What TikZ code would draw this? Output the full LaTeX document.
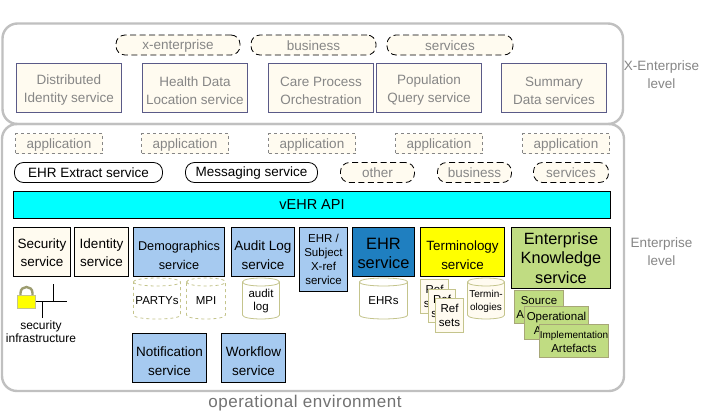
\documentclass[tikz,border=0pt]{standalone}
\usepackage{fontspec}
\setmainfont{Liberation Sans}
\definecolor{cream}{HTML}{FFFBF0}
\definecolor{panelgray}{HTML}{C0C0C0}
\definecolor{softtext}{HTML}{868686}
\definecolor{edgeblue}{HTML}{5A5A88}
\definecolor{skyblue}{HTML}{A6CAF0}
\definecolor{ehrblue}{HTML}{1F7FC0}
\definecolor{leaf}{HTML}{C0DC82}
\definecolor{olive}{HTML}{C4C48C}
\definecolor{purecyan}{HTML}{00FFFF}
\definecolor{pureyellow}{HTML}{FFFF00}
\newcommand{\fs}[2]{\fontsize{#1}{#2}\selectfont}
% [text drop], name, x1, y1, x2, y2, style, text
\newcommand{\bx}[8][0]{%
  \node[#7, minimum width={(#5-#3)*1pt}, minimum height={(#6-#4)*1pt}] (#2) at ({(#3+#5)/2},{(#4+#6)/2}) {};
  \node[#7, draw=none, fill=none] (#2-text) at ([yshift=-#1pt]#2.center) {#8};}
% name, x1, y1, x2, y2, shape style, text style, text
\newcommand{\cyl}[8]{%
  \path[store,#6] (#2,{#3+4}) .. controls (#2,{#3-1.3}) and (#4,{#3-1.3}) .. (#4,{#3+4})
    -- (#4,{#5-4}) .. controls (#4,{#5+1.3}) and (#2,{#5+1.3}) .. (#2,{#5-4}) -- cycle;
  \draw[store,#6,fill=none] (#2,{#3+4}) .. controls (#2,{#3+9.3}) and (#4,{#3+9.3}) .. (#4,{#3+4});
  \node[storetext,#7] (#1) at ({(#2+#4)/2},{(#3+#5)/2+2.5}) {#8};}
\tikzset{
  base/.style={inner sep=0pt, outer sep=0pt, align=center, font=\fs{13.5}{18}},
  panel/.style={base, draw=panelgray, line width=2.4pt, rounded corners=15pt},
  xbox/.style={base, draw=edgeblue, line width=0.9pt, fill=cream, text=softtext},
  appbox/.style={base, draw=softtext, dashed, line width=0.8pt, fill=cream, text=softtext},
  softpill/.style={base, draw=black, dash pattern=on 6pt off 3.5pt, line width=0.8pt, fill=cream, text=softtext, rounded corners=9pt},
  pillsvc/.style={base, draw=black, line width=0.8pt, rounded corners=9pt},
  svc/.style={base, draw=black, line width=0.9pt},
  cream svc/.style={svc, fill=cream},
  blue svc/.style={svc, fill=skyblue},
  store/.style={draw=olive, line width=0.8pt},
  storetext/.style={base, font=\fs{11.5}{13}},
  refsheet/.style={base, draw=olive, line width=0.8pt, fill=cream, font=\fs{11.5}{14}},
  artefact/.style={base, draw=olive!85!black, line width=0.8pt, fill=leaf, font=\fs{11.5}{14}},
  lvl/.style={inner sep=0pt, align=center, text=softtext, font=\fs{13.5}{18.5}},
  wire/.style={draw=black, line width=0.8pt}
}
\begin{document}
\begin{tikzpicture}[x=1pt,y=-1pt]
\useasboundingbox (0,0) rectangle (702,418);
\fill[white] (0,0) rectangle (702,418);
% panels
\bx{lowerpanel}{2}{124}{624}{391}{panel}{}
\bx{upperpanel}{2.5}{23.5}{623}{124}{panel}{}
% x-enterprise row
\bx[1]{pxe}{116}{35}{240}{55}{softpill}{x-enterprise}
\bx[1]{pxb}{251}{35}{376}{55}{softpill}{business}
\bx[1]{pxs}{387}{35}{513}{55}{softpill}{services}
\bx[2.5]{xa}{16.5}{63.5}{121.5}{112.5}{xbox}{Distributed\\Identity service}
\bx[2.5]{xb}{142.5}{63.5}{247.5}{112.5}{xbox}{Health Data\\Location service}
\bx[2.5]{xc}{268.5}{63.5}{373.5}{112.5}{xbox}{Care Process\\Orchestration}
\bx[2.5]{xd}{376.5}{63.5}{481.5}{112.5}{xbox}{Population\\Query service}
\bx[2.5]{xe}{501.5}{63.5}{606.5}{112.5}{xbox}{Summary\\Data services}
\node[lvl] (xlvl) at (661.5,74.5) {X-Enterprise\\level};
% application row
\bx[1.5]{apa}{15.5}{133.5}{102.5}{153.5}{appbox}{application}
\bx[1.5]{apb}{141.5}{133.5}{228.5}{153.5}{appbox}{application}
\bx[1.5]{apc}{268.5}{133.5}{355.5}{153.5}{appbox}{application}
\bx[1.5]{apd}{395.5}{133.5}{482.5}{153.5}{appbox}{application}
\bx[1.5]{ape}{522.5}{133.5}{609.5}{153.5}{appbox}{application}
% pills
\bx[0.5]{ehrx}{14.5}{162.5}{162.5}{182.5}{pillsvc}{EHR Extract service}
\bx[1]{msg}{185.5}{162.5}{317.5}{182.5}{pillsvc}{Messaging service}
\bx[0.5]{poth}{340.5}{162.5}{414.5}{182.5}{softpill}{other}
\bx[0.5]{pbus}{437.5}{162.5}{511.5}{182.5}{softpill}{business}
\bx[0.5]{psrv}{533.5}{162.5}{608.5}{182.5}{softpill}{services}
% API
\bx{api}{13.5}{191.5}{610.5}{218.5}{svc,fill=purecyan,font=\fs{14.5}{17}}{vEHR API}
% services
\bx[0.5]{sec}{13.5}{227.5}{70.5}{276.5}{cream svc}{Security\\service}
\bx[0.5]{idn}{74.5}{227.5}{128.5}{276.5}{cream svc}{Identity\\service}
\bx[3]{dem}{133.5}{227.5}{224.5}{276.5}{blue svc,font=\fs{12.7}{19}}{Demographics\\service}
\bx[3]{aud}{231.5}{227.5}{294.5}{276.5}{blue svc,font=\fs{13.5}{19}}{Audit Log\\service}
\bx{xrf}{299.5}{227.5}{347.5}{291.5}{blue svc,font=\fs{11.5}{14}}{EHR /\\Subject\\X-ref\\service}
\bx[1]{ehr}{352.5}{227.5}{414.5}{276.5}{svc,fill=ehrblue,font=\fs{16.4}{19}}{EHR\\service}
\bx[3]{ter}{420.5}{227.5}{504.5}{276.5}{svc,fill=pureyellow,font=\fs{13.4}{19}}{Terminology\\service}
\bx{ent}{511.5}{227.5}{610.5}{288.5}{svc,fill=leaf,font=\fs{16.3}{19.5}}{Enterprise\\Knowledge\\service}
\bx[3]{note}{132.5}{333.5}{206.5}{382.5}{blue svc,font=\fs{13.5}{19}}{Notification\\service}
\bx[3]{wfl}{221.5}{333.5}{285.5}{382.5}{blue svc,font=\fs{13.5}{19}}{Workflow\\service}
% stores
\cyl{party}{133.5}{278}{180.5}{319}{dashed}{}{PARTYs}
\cyl{mpi}{186.5}{278}{225.5}{319}{dashed}{}{MPI}
\cyl{audl}{242.5}{278}{279.5}{319}{}{}{audit\\log}
\cyl{ehrs}{359.5}{278}{407.5}{319}{}{}{EHRs}
\cyl{terms}{467.5}{278}{504.5}{319}{fill=cream}{font=\fs{10}{13}}{Termin-\\ologies}
% reference sets
\bx{rfa}{420.5}{279.5}{448.5}{313.5}{refsheet}{Ref\\sets}
\bx{rfb}{428.5}{289.5}{455.5}{322.5}{refsheet}{Ref\\sets}
\bx{rfc}{435.5}{298.5}{463.5}{332.5}{refsheet}{Ref\\sets}
% artefacts
\bx[0.5]{asrc}{514.5}{290.5}{563.5}{323.5}{artefact}{Source\\Artefacts}
\bx[0.5]{aopr}{524.5}{306.5}{588.5}{339.5}{artefact}{Operational\\Artefacts}
\bx[0.5]{aimp}{539.5}{324.5}{608.5}{357.5}{artefact}{{\fs{10}{14}Implementation}\\Artefacts}
% security infrastructure
\draw[draw=olive!80!black, line width=2.4pt] (20.5,295) -- (20.5,293) .. controls (20.5,285) and (32.5,285) .. (32.5,293) -- (32.5,295);
\node[base, fill=pureyellow, draw=olive, line width=0.8pt, minimum width=18pt, minimum height=13pt] (lock) at (26.5,301.5) {};
\coordinate (busend) at (66.5,301);
\coordinate (busup) at (53,284);
\coordinate (busupfoot) at (53,301);
\coordinate (busdown) at (42,318);
\coordinate (busdownfoot) at (42,301);
\draw[wire] (lock.east |- busend) -- (busend);
\draw[wire] (busup) -- (busupfoot);
\draw[wire] (busdown) -- (busdownfoot);
\node[inner sep=0pt, align=center, font=\fs{12}{13}] (secinf) at (41,331.5) {security\\infrastructure};
% labels
\node[lvl] (elvl) at (661.5,251.5) {Enterprise\\level};
\node[inner sep=0pt, text=softtext!85!black, font=\fs{17}{20}\addfontfeature{LetterSpace=3}] (openv) at (305,403) {operational environment};
\end{tikzpicture}
\end{document}
